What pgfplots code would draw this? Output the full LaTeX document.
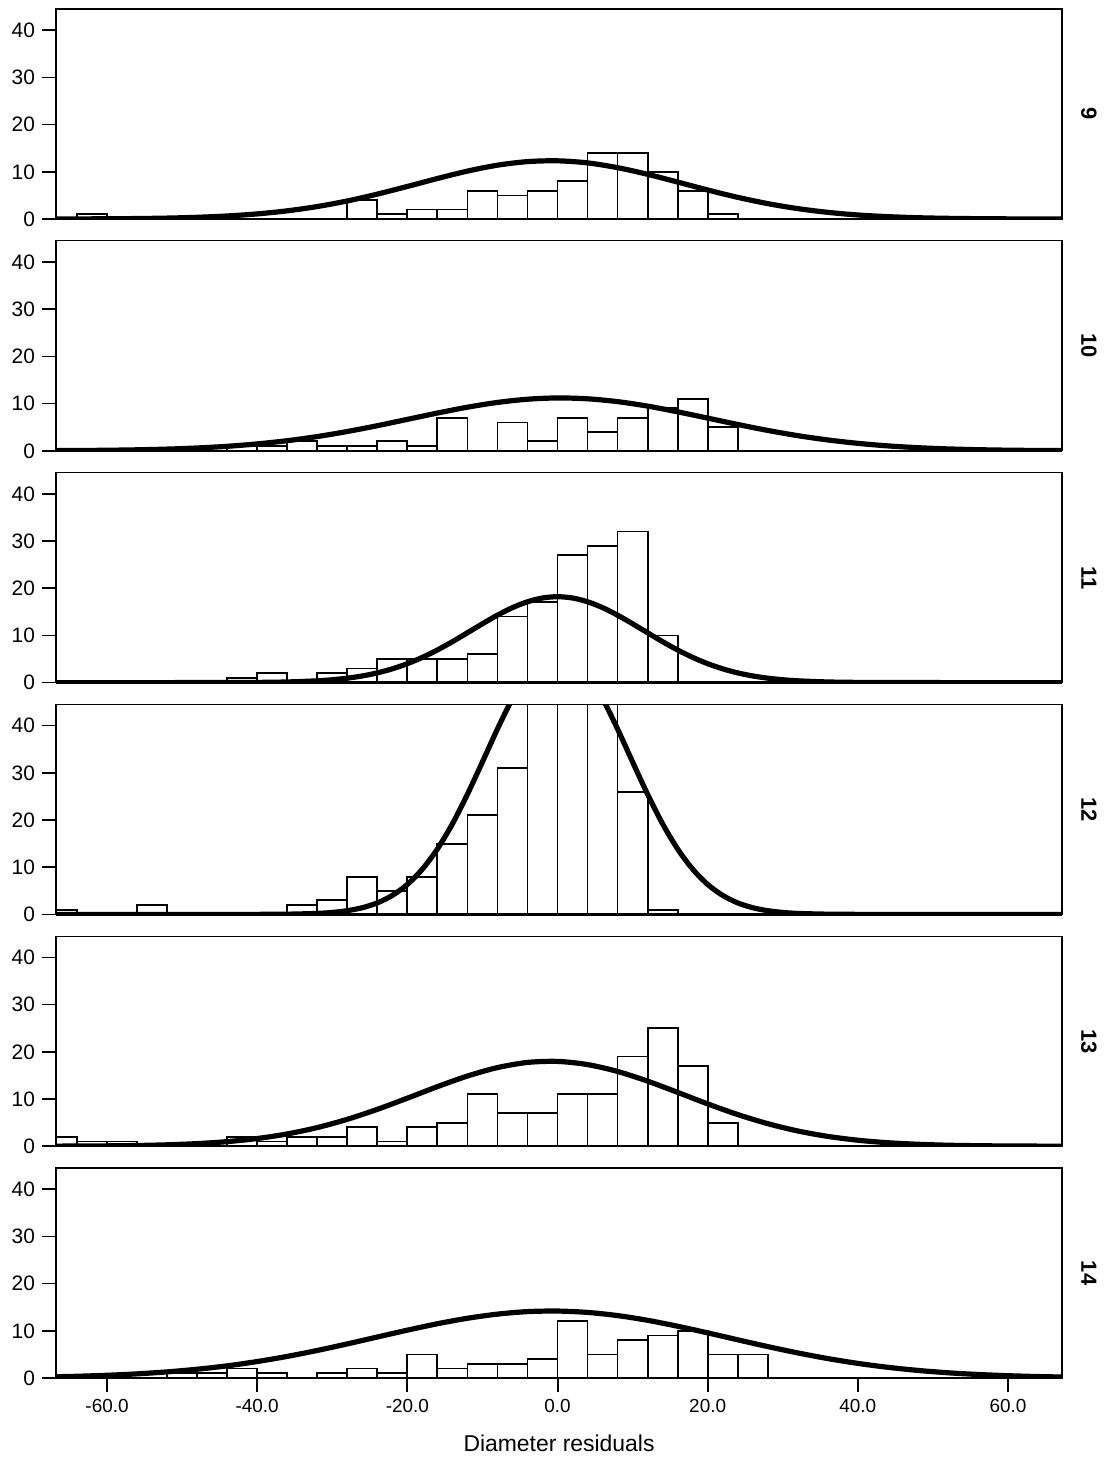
\documentclass[border=0pt]{standalone}
\usepackage{pgfplots}
\pgfplotsset{compat=1.18}
\usepackage{fontspec}
\setmainfont{Liberation Sans}

\tikzset{plab/.style={rotate=-90, font=\bfseries\fontsize{11}{13}\selectfont}}
\pgfplotsset{
  panel/.style={
    scale only axis, width=503bp, height=105bp,
    xmin=-66.8, xmax=67.2, ymin=0, ymax=44.5,
    ytick={0,10,20,30,40}, ytick pos=left, xtick pos=left,
    xtick align=outside, ytick align=outside, major tick length=7bp,
    every tick/.style={black, line width=0.8bp},
    axis line style={line width=0.6bp},
    tick label style={font=\fontsize{9.5}{11}\selectfont},
    yticklabel style={font=\fontsize{10.5}{12}\selectfont},
    /pgf/number format/assume math mode=true,
    xtick=\empty,
    axis on top,
    clip mode=individual,
    anchor=south west,
  },
  bars/.style={ybar interval, fill=white, draw=black, line width=0.9bp},
  curve/.style={black, line width=2.6bp, smooth, mark=none},
}

\begin{document}
\begin{tikzpicture}
\path[use as bounding box] (-28bp,109.5bp) rectangle (524.5bp,-621bp);

% ---------- 9 ----------
\begin{axis}[panel, at={(0,0)}]
\addplot[bars] coordinates {(-68,0)(-64,1)(-60,0)(-56,0)(-52,0)(-48,0)(-44,0)(-40,0)(-36,0)(-32,0)(-28,4)(-24,1)(-20,2)(-16,2)(-12,6)(-8,5)(-4,6)(0,8)(4,14)(8,14)(12,10)(16,6)(20,1)(24,0)(28,0)(32,0)(36,0)(40,0)(44,0)(48,0)(52,0)(56,0)(60,0)(64,0)(68,0)};
\addplot[curve] coordinates {(-68,0.009)(-64,0.021)(-60,0.047)(-56,0.097)(-52,0.19)(-48,0.36)(-44,0.64)(-40,1.08)(-36,1.73)(-32,2.64)(-28,3.82)(-24,5.27)(-20,6.90)(-16,8.58)(-12,10.15)(-8,11.40)(-4,12.16)(0,12.33)(4,11.89)(8,10.88)(12,9.47)(16,7.83)(20,6.15)(24,4.59)(28,3.26)(32,2.20)(36,1.41)(40,0.85)(44,0.50)(48,0.27)(52,0.14)(56,0.07)(60,0.03)(64,0.015)(68,0.006)};
\draw[line width=1.2bp] (rel axis cs:0,0) -- (rel axis cs:1,0);
\node[plab] at ([xshift=13.5bp]rel axis cs:1,0.5) {9};
\end{axis}

% ---------- 10 ----------
\begin{axis}[panel, at={(0,-115.9bp)}]
\addplot[bars] coordinates {(-68,0)(-64,0)(-60,0)(-56,0)(-52,0)(-48,0)(-44,1)(-40,1)(-36,2)(-32,1)(-28,1)(-24,2)(-20,1)(-16,7)(-12,0)(-8,6)(-4,2)(0,7)(4,4)(8,7)(12,9)(16,11)(20,5)(24,0)(28,0)(32,0)(36,0)(40,0)(44,0)(48,0)(52,0)(56,0)(60,0)(64,0)(68,0)};
\addplot[curve] coordinates {(-68,0.032)(-64,0.063)(-60,0.117)(-56,0.21)(-52,0.36)(-48,0.60)(-44,0.95)(-40,1.46)(-36,2.14)(-32,3.02)(-28,4.09)(-24,5.32)(-20,6.66)(-16,8.00)(-12,9.24)(-8,10.25)(-4,10.93)(0,11.20)(4,11.02)(8,10.42)(12,9.47)(16,8.26)(20,6.93)(24,5.58)(28,4.32)(32,3.21)(36,2.30)(40,1.58)(44,1.04)(48,0.66)(52,0.40)(56,0.235)(60,0.13)(64,0.071)(68,0.037)};
\draw[line width=1.2bp] (rel axis cs:0,0) -- (rel axis cs:1,0);
\node[plab] at ([xshift=13.5bp]rel axis cs:1,0.5) {10};
\end{axis}

% ---------- 11 ----------
\begin{axis}[panel, at={(0,-231.8bp)}]
\addplot[bars] coordinates {(-68,0)(-64,0)(-60,0)(-56,0)(-52,0)(-48,0)(-44,1)(-40,2)(-36,0)(-32,2)(-28,3)(-24,5)(-20,5)(-16,5)(-12,6)(-8,14)(-4,17)(0,27)(4,29)(8,32)(12,10)(16,0)(20,0)(24,0)(28,0)(32,0)(36,0)(40,0)(44,0)(48,0)(52,0)(56,0)(60,0)(64,0)(68,0)};
\addplot[curve] coordinates {(-68,0)(-56,0)(-48,0.003)(-44,0.012)(-40,0.043)(-36,0.136)(-32,0.38)(-30,0.61)(-28,0.94)(-26,1.41)(-24,2.06)(-22,2.92)(-20,4.01)(-18,5.35)(-16,6.91)(-14,8.67)(-12,10.56)(-10,12.47)(-8,14.29)(-6,15.89)(-4,17.13)(-2,17.93)(0,18.2)(2,17.93)(4,17.13)(6,15.89)(8,14.29)(10,12.47)(12,10.56)(14,8.67)(16,6.91)(18,5.35)(20,4.01)(22,2.92)(24,2.06)(26,1.41)(28,0.94)(30,0.61)(32,0.38)(36,0.136)(40,0.043)(44,0.012)(48,0.003)(56,0)(68,0)};
\draw[line width=1.2bp] (rel axis cs:0,0) -- (rel axis cs:1,0);
\node[plab] at ([xshift=13.5bp]rel axis cs:1,0.5) {11};
\end{axis}

% ---------- 12 ----------
\begin{axis}[panel, at={(0,-347.7bp)}]
\addplot[bars] coordinates {(-68,1)(-64,0)(-60,0)(-56,2)(-52,0)(-48,0)(-44,0)(-40,0)(-36,2)(-32,3)(-28,8)(-24,5)(-20,8)(-16,15)(-12,21)(-8,31)(-4,60)(0,60)(4,60)(8,26)(12,1)(16,0)(20,0)(24,0)(28,0)(32,0)(36,0)(40,0)(44,0)(48,0)(52,0)(56,0)(60,0)(64,0)(68,0)};
\addplot[curve] coordinates {(-68,0)(-44,0)(-40,0.01)(-36,0.049)(-32,0.21)(-30,0.42)(-28,0.79)(-26,1.42)(-24,2.44)(-22,4.03)(-20,6.35)(-18,9.59)(-16,13.86)(-14,19.19)(-12,25.45)(-10,32.31)(-8,39.29)(-6,45.74)(-4,50.98)(-2,54.40)(0,55.6)(2,54.40)(4,50.98)(6,45.74)(8,39.29)(10,32.31)(12,25.45)(14,19.19)(16,13.86)(18,9.59)(20,6.35)(22,4.03)(24,2.44)(26,1.42)(28,0.79)(30,0.42)(32,0.21)(36,0.049)(40,0.01)(44,0)(68,0)};
\draw[line width=1.2bp] (rel axis cs:0,0) -- (rel axis cs:1,0);
\node[plab] at ([xshift=13.5bp]rel axis cs:1,0.5) {12};
\end{axis}

% ---------- 13 ----------
\begin{axis}[panel, at={(0,-463.6bp)}]
\addplot[bars] coordinates {(-68,2)(-64,1)(-60,1)(-56,0)(-52,0)(-48,1)(-44,2)(-40,1)(-36,2)(-32,2)(-28,4)(-24,1)(-20,4)(-16,5)(-12,11)(-8,7)(-4,7)(0,11)(4,11)(8,19)(12,25)(16,17)(20,5)(24,0)(28,0)(32,0)(36,0)(40,0)(44,0)(48,0)(52,0)(56,0)(60,0)(64,0)(68,0)};
\addplot[curve] coordinates {(-68,0.015)(-64,0.034)(-60,0.074)(-56,0.152)(-52,0.297)(-48,0.551)(-44,0.972)(-40,1.63)(-36,2.60)(-32,3.95)(-28,5.70)(-24,7.81)(-20,10.18)(-16,12.62)(-12,14.87)(-8,16.66)(-4,17.75)(0,17.97)(4,17.30)(8,15.84)(12,13.79)(16,11.41)(20,8.97)(24,6.71)(28,4.78)(32,3.23)(36,2.08)(40,1.27)(44,0.74)(48,0.41)(52,0.21)(56,0.107)(60,0.05)(64,0.023)(68,0.01)};
\draw[line width=1.2bp] (rel axis cs:0,0) -- (rel axis cs:1,0);
\node[plab] at ([xshift=13.5bp]rel axis cs:1,0.5) {13};
\end{axis}

% ---------- 14 ----------
\begin{axis}[panel, at={(0,-579.5bp)},
  xtick={-60,-40,-20,0,20,40,60},
  xticklabel style={/pgf/number format/.cd, fixed, fixed zerofill, precision=1},
  xlabel={Diameter residuals},
  every axis x label/.style={at={(axis description cs:0.5,0)}, yshift=-32.5bp, anchor=center, font=\fontsize{11.5}{13}\selectfont},
]
\addplot[bars] coordinates {(-68,0)(-64,0)(-60,0)(-56,0)(-52,1)(-48,1)(-44,2)(-40,1)(-36,0)(-32,1)(-28,2)(-24,1)(-20,5)(-16,2)(-12,3)(-8,3)(-4,4)(0,12)(4,5)(8,8)(12,9)(16,10)(20,5)(24,5)(28,0)(32,0)(36,0)(40,0)(44,0)(48,0)(52,0)(56,0)(60,0)(64,0)(68,0)};
\addplot[curve] coordinates {(-68,0.23)(-64,0.37)(-60,0.58)(-56,0.88)(-52,1.30)(-48,1.86)(-44,2.58)(-40,3.49)(-36,4.58)(-32,5.84)(-28,7.23)(-24,8.69)(-20,10.14)(-16,11.50)(-12,12.66)(-8,13.54)(-4,14.07)(0,14.19)(4,13.90)(8,13.23)(12,12.23)(16,10.97)(20,9.57)(24,8.10)(28,6.66)(32,5.32)(36,4.12)(40,3.10)(44,2.27)(48,1.61)(52,1.11)(56,0.75)(60,0.49)(64,0.31)(68,0.19)};
\draw[line width=1.2bp] (rel axis cs:0,0) -- (rel axis cs:1,0);
\node[plab] at ([xshift=13.5bp]rel axis cs:1,0.5) {14};
\end{axis}

% x tick marks of the bottom panel (axis: 503bp for 134 units, left edge at -66.8)
\foreach \tx in {25.53,100.60,175.68,250.75,325.83,400.90,475.97}
  \draw[black, line width=1bp] (\tx bp,-579.5bp) -- (\tx bp,-586.5bp);
\end{tikzpicture}
\end{document}
